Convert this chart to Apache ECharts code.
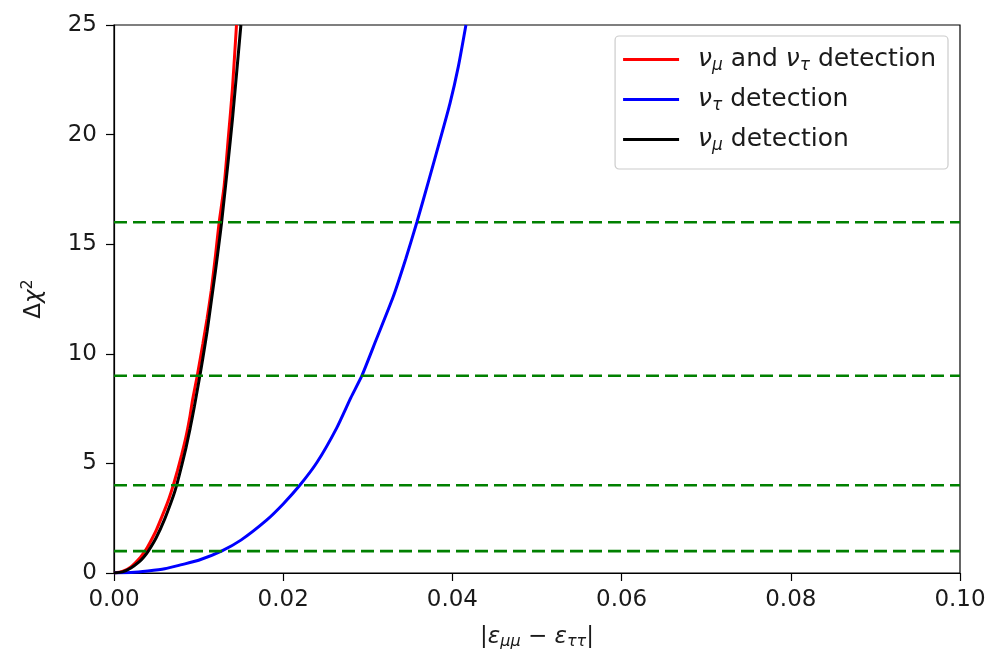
<!DOCTYPE html>
<html>
<head>
<meta charset="utf-8">
<script src="https://cdn.jsdelivr.net/npm/echarts@6/dist/echarts.min.js"></script>
<style>
  html, body { margin: 0; padding: 0; background: #fff; }
  #chart { width: 1001px; height: 656px; }
</style>
</head>
<body>
<div id="chart"></div>
<script>
// Δχ² versus |ε_μμ − ε_ττ| for three detection channels
const xTicks = [0, 0.02, 0.04, 0.06, 0.08, 0.10];
const yTicks = [0, 5, 10, 15, 20, 25];

// ν_μ and ν_τ detection
const bothX = [0, 0.001, 0.002, 0.003, 0.00366, 0.004, 0.005, 0.006, 0.0065, 0.007, 0.0075, 0.008, 0.0085, 0.009, 0.0093, 0.00984, 0.0105, 0.011, 0.0115, 0.012, 0.01243, 0.013, 0.0135, 0.014, 0.01448];
const bothY = [0, 0.07, 0.28, 0.66, 1.0, 1.21, 1.96, 2.89, 3.4, 4.0, 4.67, 5.4, 6.2, 7.2, 7.93, 9.0, 10.45, 11.6, 12.9, 14.5, 16.0, 17.6, 19.8, 22.1, 25.0];

// ν_τ detection
const tauX = [0, 0.002, 0.004, 0.006, 0.008, 0.010, 0.0127, 0.015, 0.018, 0.020, 0.02196, 0.024, 0.0263, 0.028, 0.0293, 0.031, 0.033, 0.0345, 0.0358, 0.0372, 0.0385, 0.0397, 0.0407, 0.0416];
const tauY = [0, 0.02, 0.09, 0.19, 0.38, 0.58, 1.0, 1.5, 2.4, 3.15, 4.0, 5.05, 6.6, 8.0, 9.0, 10.65, 12.6, 14.35, 16.0, 17.9, 19.7, 21.4, 23.1, 25.0];

// ν_μ detection
const muX = [0, 0.001, 0.002, 0.003, 0.0035, 0.00405, 0.005, 0.006, 0.007, 0.0074, 0.008, 0.0085, 0.009, 0.0095, 0.01015, 0.0105, 0.011, 0.0115, 0.012, 0.0125, 0.01272, 0.0135, 0.014, 0.0147, 0.0150];
const muY = [0, 0.05, 0.23, 0.52, 0.72, 1.0, 1.62, 2.47, 3.5, 4.0, 4.9, 5.7, 6.6, 7.6, 9.0, 9.8, 11.0, 12.4, 13.8, 15.3, 16.0, 18.8, 20.7, 23.7, 25.0];

// confidence levels (horizontal reference lines)
const levels = [1, 4, 9, 16];

const seriesNames = ['νμ and ντ detection', 'ντ detection', 'νμ detection'];

const pairs = (xs, ys) => xs.map((x, i) => [x, ys[i]]);

const font = 'DejaVu Sans';
const txt = '#1a1a1a';

const richStyles = {
  n: { fontFamily: font, fontStyle: 'italic', fontSize: 25, color: txt },
  s: { fontFamily: font, fontStyle: 'italic', fontSize: 17, color: txt, verticalAlign: 'bottom', padding: [12, 0, 0, 0] },
  t: { fontFamily: font, fontSize: 25, color: txt }
};

const legendLabels = {
  'νμ and ντ detection': '{n|ν}{s|μ}{t| and }{n|ν}{s|τ}{t| detection}',
  'ντ detection': '{n|ν}{s|τ}{t| detection}',
  'νμ detection': '{n|ν}{s|μ}{t| detection}'
};

const curve = (name, data, color) => ({
  name, type: 'line', data, showSymbol: false, symbol: 'none',
  smooth: 0.2,
  lineStyle: { color, width: 3 }, itemStyle: { color },
  z: 2
});

const levelSeries = levels.map(v => ({
  name: 'level ' + v, type: 'line', data: [[xTicks[0], v], [xTicks[xTicks.length - 1], v]],
  symbol: 'none', silent: true,
  lineStyle: { color: '#008000', width: 2.6, type: [13, 6] },
  z: 3
}));

const chart = echarts.init(document.getElementById('chart'), null, { renderer: 'canvas' });
chart.setOption({
  animation: false,
  backgroundColor: '#fff',
  grid: { left: 114, right: 41, top: 25, bottom: 83, show: true, borderColor: '#000', borderWidth: 1.2, backgroundColor: 'transparent' },
  xAxis: {
    type: 'value', min: xTicks[0], max: xTicks[xTicks.length - 1], interval: 0.02,
    axisLine: { show: true, lineStyle: { color: '#000', width: 1.2 } },
    axisTick: { show: true, inside: false, length: 8, lineStyle: { color: '#000', width: 1.2 } },
    splitLine: { show: false },
    axisLabel: { fontFamily: font, fontSize: 23, color: txt, margin: 16, formatter: v => v.toFixed(2) },
    name: '{b||}{e|ε}{s|μμ}{t| − }{e|ε}{s|ττ}{b||}',
    nameLocation: 'middle', nameGap: 51,
    nameTextStyle: {
      rich: {
        b: { fontFamily: font, fontSize: 23, color: txt },
        e: { fontFamily: font, fontStyle: 'italic', fontSize: 23, color: txt },
        s: { fontFamily: font, fontStyle: 'italic', fontSize: 16, color: txt, verticalAlign: 'bottom', padding: [10, 0, 0, 0] },
        t: { fontFamily: font, fontSize: 23, color: txt }
      }
    }
  },
  yAxis: {
    type: 'value', min: yTicks[0], max: yTicks[yTicks.length - 1], interval: 5,
    axisLine: { show: true, lineStyle: { color: '#000', width: 1.2 } },
    axisTick: { show: true, inside: false, length: 8, lineStyle: { color: '#000', width: 1.2 } },
    splitLine: { show: false },
    axisLabel: { fontFamily: font, fontSize: 23, color: txt, margin: 17 },
    name: '{d|Δ}{c|χ}{p|2}',
    nameLocation: 'middle', nameGap: 66, nameRotate: 90,
    nameTextStyle: {
      rich: {
        d: { fontFamily: font, fontSize: 23, color: txt },
        c: { fontFamily: font, fontStyle: 'italic', fontSize: 23, color: txt },
        p: { fontFamily: font, fontSize: 16, color: txt, verticalAlign: 'top', padding: [0, 0, 12, 0] }
      }
    }
  },
  legend: {
    data: seriesNames,
    orient: 'vertical', right: 53, top: 36,
    icon: 'rect', itemWidth: 56, itemHeight: 3, itemGap: 13,
    padding: [11, 12, 15, 8],
    backgroundColor: 'rgba(255,255,255,0.8)',
    borderColor: '#cccccc', borderWidth: 1.2, borderRadius: 4,
    formatter: name => legendLabels[name],
    textStyle: { fontFamily: font, fontSize: 25, color: txt, padding: [0, 0, 0, 14], rich: richStyles }
  },
  series: [
    curve(seriesNames[0], pairs(bothX, bothY), '#ff0000'),
    curve(seriesNames[1], pairs(tauX, tauY), '#0000ff'),
    curve(seriesNames[2], pairs(muX, muY), '#000000'),
    ...levelSeries
  ]
});
</script>
</body>
</html>
